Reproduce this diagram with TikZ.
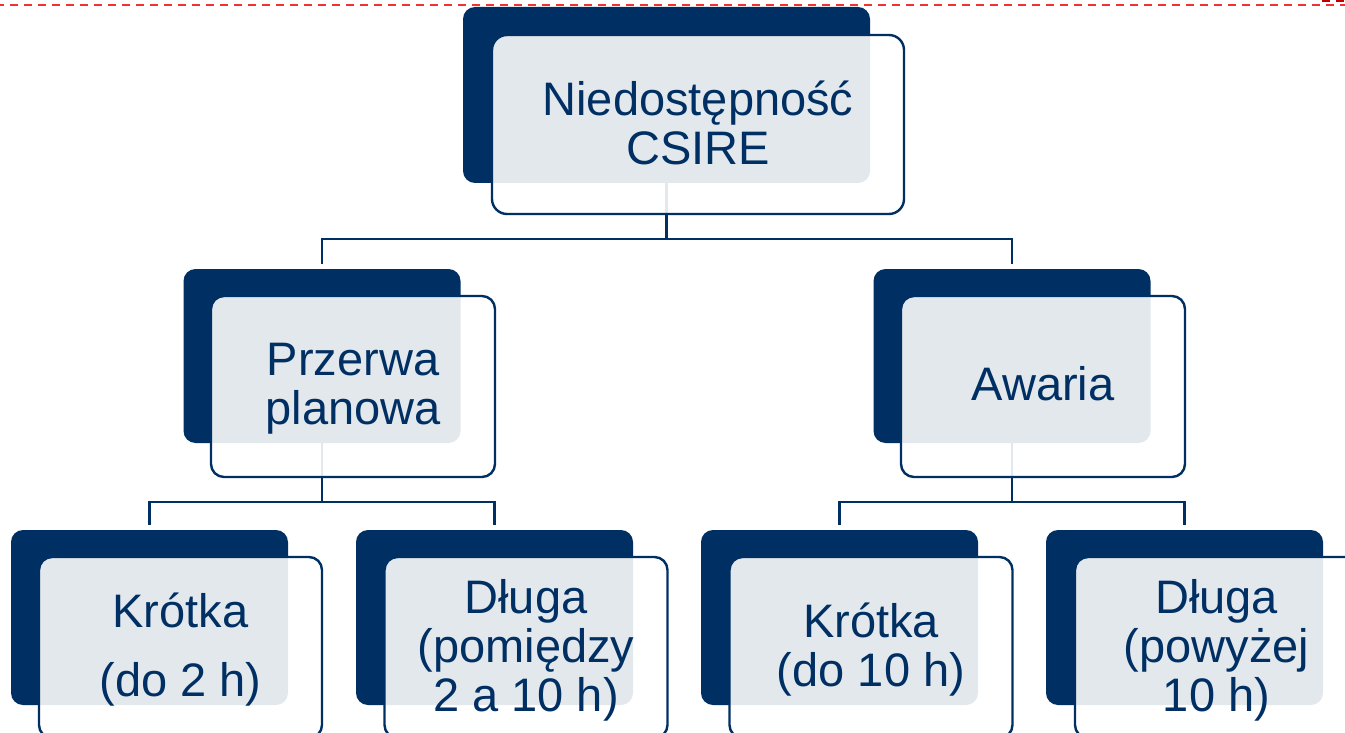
\documentclass[tikz,border=0pt]{standalone}
\usepackage{fontspec}
\setmainfont{Liberation Sans}
\definecolor{navy}{RGB}{0,47,100}
\definecolor{dashred}{RGB}{240,50,50}
\begin{document}
\begin{tikzpicture}[x=1pt,y=-1pt,
  darkbox/.style={fill=navy, draw=none, rounded corners=12pt, inner sep=0pt},
  frontbox/.style={fill=white, fill opacity=0.89, draw=navy, draw opacity=1, line width=2.4pt, rounded corners=13pt, inner sep=0pt, minimum width=283pt, minimum height=181pt},
  label/.style={text=navy, align=center, inner sep=0pt, font=\fontsize{47}{49}\selectfont},
  conn/.style={draw=navy, line width=2.2pt},
  lvl/.style={minimum width=277pt, minimum height=175pt}]
\useasboundingbox (0,0) rectangle (1345,733);
\clip (0,0) rectangle (1345,733);
\fill[white] (0,0) rectangle (1345,733);
% red dashed line at top
\draw[dashred, line width=1.3pt, dash pattern=on 8pt off 6pt, dash phase=4pt] (0,5) -- (1345,5);
\draw[red!75!black, line width=1.3pt, dash pattern=on 8pt off 6pt] (1322,1) -- (1345,1);
% dark boxes
\node[darkbox, minimum width=407pt, minimum height=176pt] (td) at (666.5,95) {};
\node[darkbox, lvl, minimum height=174pt] (pd) at (322,356) {};
\node[darkbox, lvl, minimum height=174pt] (ad) at (1012,356) {};
\node[darkbox, lvl] (k1d) at (149.5,617.5) {};
\node[darkbox, lvl] (d1d) at (494.5,617.5) {};
\node[darkbox, lvl] (k2d) at (839.5,617.5) {};
\node[darkbox, lvl] (d2d) at (1184.5,617.5) {};
% connectors
\coordinate (j0) at (666.5,239);
\coordinate (j1) at (322,502);
\coordinate (j2) at (1012,502);
\draw[conn, shorten >=5pt] (td.south) -- (j0) -| (pd.north);
\draw[conn, shorten >=5pt] (j0) -| (ad.north);
\draw[conn, shorten >=5pt] (pd.south) -- (j1) -| (k1d.north);
\draw[conn, shorten >=5pt] (j1) -| (d1d.north);
\draw[conn, shorten >=5pt] (ad.south) -- (j2) -| (k2d.north);
\draw[conn, shorten >=5pt] (j2) -| (d2d.north);
% front boxes
\node[frontbox, minimum width=412pt, minimum height=179pt, rounded corners=15pt] (tf) at (698,124.5) {};
\node[frontbox, minimum width=284pt] (pf) at (353,386.5) {};
\node[frontbox, minimum width=284pt] (af) at (1043,386.5) {};
\node[frontbox] (k1f) at (180.5,647.5) {};
\node[frontbox] (d1f) at (526,647.5) {};
\node[frontbox] (k2f) at (871,647.5) {};
\node[frontbox] (d2f) at (1216.5,647.5) {};
% labels
\node[label] (tt) at (698,123) {Niedostępność\\CSIRE};
\node[label] (pt) at (353,389) {Przerwa\\planowa};
\node[label] (at) at (1043,384) {Awaria};
\node[label] (k1t) at (180.5,650) {Krótka\\[20pt](do 2 h)};
\node[label] (d1t) at (526,650.5) {Długa\\(pomiędzy\\2 a 10 h)};
\node[label] (k2t) at (871,649.5) {Krótka\\(do 10 h)};
\node[label] (d2t) at (1216.5,650.5) {Długa\\(powyżej\\10 h)};
\end{tikzpicture}
\end{document}
